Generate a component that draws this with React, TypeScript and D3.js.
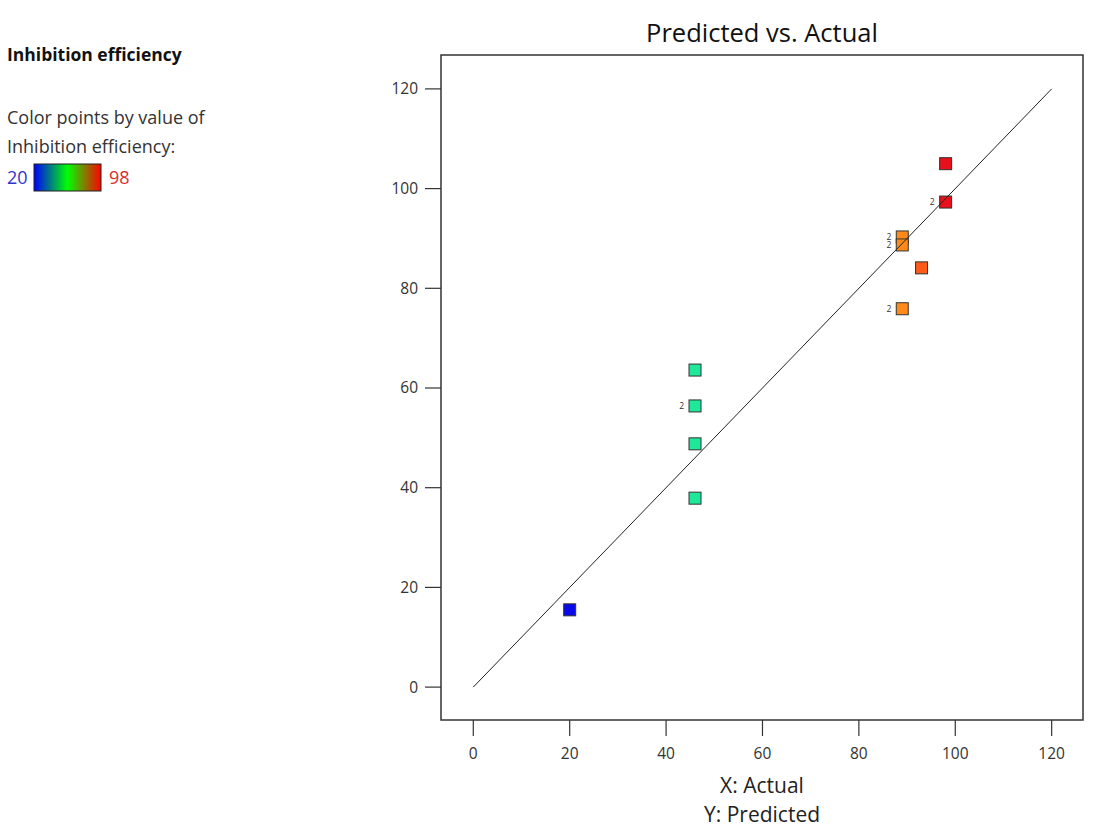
import React from "react";
import * as d3 from "d3";

const actual = [20, 46, 46, 46, 46, 89, 89, 89, 93, 98, 98];
const predicted = [15.5, 63.6, 56.4, 48.8, 37.9, 90.3, 88.7, 75.9, 84.1, 105, 97.3];
const multiplicity = [1, 1, 2, 1, 1, 2, 2, 2, 1, 1, 2];
const xTicks = [0, 20, 40, 60, 80, 100, 120];
const yTicks = [0, 20, 40, 60, 80, 100, 120];
const colorStops = [20, 46, 89, 93, 98];
const colorValues = ["#0a0ae8", "#1ee89a", "#ff8a1a", "#ff5a1a", "#e8101a"];

const W = 1095;
const H = 828;
const FONT = "'Segoe UI', 'Open Sans', 'Noto Sans', sans-serif";

export default function App() {
  const left = 441, right = 1083, top = 55, bottom = 720;
  const x = d3.scaleLinear().domain([-6.7, 126.5]).range([left, right]);
  const y = d3.scaleLinear().domain([-6.6, 126.8]).range([bottom, top]);
  const color = d3.scaleLinear<string>().domain(colorStops).range(colorValues);
  const line = d3.line<[number, number]>().x(d => x(d[0])).y(d => y(d[1]));
  const sq = 12;
  return (
    <svg width={W} height={H} style={{ position: "absolute", left: 0, top: 0, background: "#fff" }} fontFamily={FONT}>
      <defs>
        <linearGradient id="grad" x1="0" x2="1" y1="0" y2="0">
          <stop offset="0" stopColor="#0000ff" />
          <stop offset="0.5" stopColor="#00ff00" />
          <stop offset="1" stopColor="#ff0000" />
        </linearGradient>
      </defs>
      {/* legend */}
      <text x={7} y={61} fontSize={17.5} fontWeight="bold" fill="#111">Inhibition efficiency</text>
      <text x={7} y={124} fontSize={18} fill="#333">Color points by value of</text>
      <text x={7} y={153} fontSize={18} fill="#333">Inhibition efficiency:</text>
      <text x={7} y={184} fontSize={18} fill="#3333cc">20</text>
      <rect x={34} y={164} width={67} height={27} fill="url(#grad)" stroke="#222" strokeWidth={1} />
      <text x={109} y={184} fontSize={18} fill="#dd2b2b">98</text>

      {/* title */}
      <text x={(left + right) / 2} y={42} fontSize={25.5} textAnchor="middle" fill="#111">Predicted vs. Actual</text>

      {/* frame */}
      <rect x={left} y={top} width={right - left} height={bottom - top} fill="none" stroke="#333" strokeWidth={1.5} />

      {/* y ticks */}
      {yTicks.map(t => (
        <g key={"y" + t}>
          <line x1={left - 16} x2={left} y1={y(t)} y2={y(t)} stroke="#333" strokeWidth={1.2} />
          <text x={left - 23} y={y(t) + 5.5} fontSize={15.5} textAnchor="end" fill="#333">{t}</text>
        </g>
      ))}
      {/* x ticks */}
      {xTicks.map(t => (
        <g key={"x" + t}>
          <line x1={x(t)} x2={x(t)} y1={bottom} y2={bottom + 16} stroke="#333" strokeWidth={1.2} />
          <text x={x(t)} y={bottom + 39} fontSize={15.5} textAnchor="middle" fill="#333">{t}</text>
        </g>
      ))}

      {/* axis titles */}
      <text x={(left + right) / 2} y={793} fontSize={21} textAnchor="middle" fill="#222">X: Actual</text>
      <text x={(left + right) / 2} y={822} fontSize={21} textAnchor="middle" fill="#222">Y: Predicted</text>

      {/* points */}
      {actual.map((a, i) => (
        <g key={"p" + i}>
          <rect x={x(a) - sq / 2} y={y(predicted[i]) - sq / 2} width={sq} height={sq}
            fill={color(a)} stroke="#333" strokeWidth={1} />
          {multiplicity[i] > 1 && (
            <text x={x(a) - sq / 2 - 5} y={y(predicted[i]) + 3} fontSize={8.5} textAnchor="end" fill="#333">
              {multiplicity[i]}
            </text>
          )}
        </g>
      ))}

      {/* diagonal */}
      <path d={line([[0, 0], [120, 120]]) || ""} stroke="#222" strokeWidth={1} fill="none" />
    </svg>
  );
}
